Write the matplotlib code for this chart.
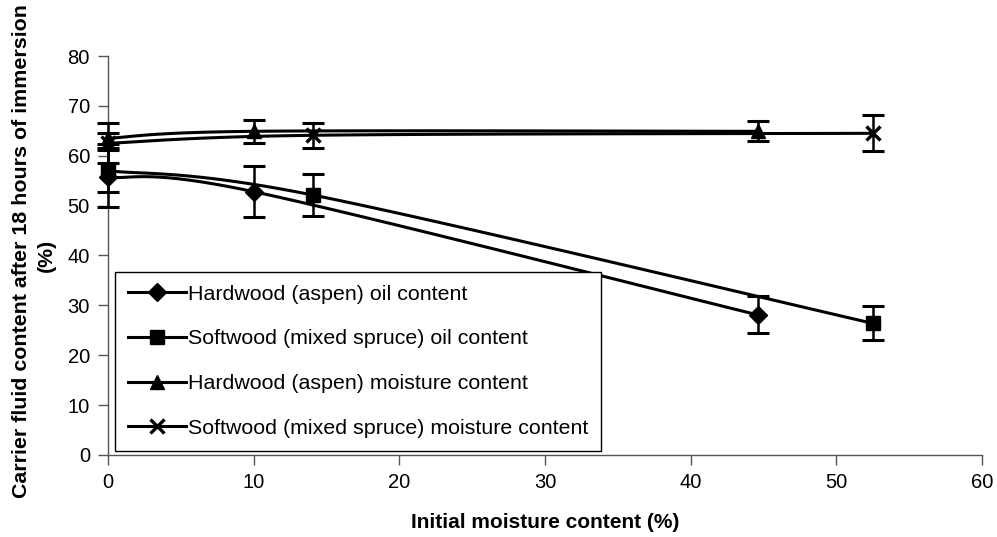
import numpy as np
import matplotlib
matplotlib.use("Agg")
import matplotlib.pyplot as plt

plt.rcParams['font.family'] = ['Liberation Sans', 'DejaVu Sans']

# Initial moisture content (%) of the two wood species
moisture_hardwood = [0.0, 10.0, 44.6]
moisture_softwood = [0.0, 14.1, 52.5]

# Carrier fluid content after 18 h immersion (%) and error bar half-widths
hw_oil = [55.7, 52.8, 28.1]
hw_oil_err = [5.9, 5.1, 3.7]
sw_oil = [57.0, 52.1, 26.4]
sw_oil_err = [4.2, 4.2, 3.4]
hw_moist = [63.5, 64.9, 64.9]
hw_moist_err = [1.1, 2.3, 2.0]
sw_moist = [62.5, 64.1, 64.5]
sw_moist_err = [4.0, 2.5, 3.6]

labels = [
    "Hardwood (aspen) oil content",
    "Softwood (mixed spruce) oil content",
    "Hardwood (aspen) moisture content",
    "Softwood (mixed spruce) moisture content",
]
x_ticks = [0, 10, 20, 30, 40, 50, 60]
y_ticks = [0, 10, 20, 30, 40, 50, 60, 70, 80]


def smooth_curve(x, y, n=60):
    """Piecewise cubic Bezier through the points (spreadsheet-style smoothing)."""
    pts = np.column_stack([x, y]).astype(float)
    out = []
    for i in range(len(pts) - 1):
        p0 = pts[i - 1] if i > 0 else pts[i]
        p1 = pts[i]
        p2 = pts[i + 1]
        p3 = pts[i + 2] if i + 2 < len(pts) else pts[i + 1]
        c1 = p1 + (p2 - p0) / 6.0
        c2 = p2 - (p3 - p1) / 6.0
        t = np.linspace(0, 1, n)[:, None]
        seg = ((1 - t) ** 3) * p1 + 3 * ((1 - t) ** 2) * t * c1 + 3 * (1 - t) * t ** 2 * c2 + t ** 3 * p2
        out.append(seg if i == 0 else seg[1:])
    c = np.vstack(out)
    return c[:, 0], c[:, 1]


fig = plt.figure(figsize=(9.97, 5.37), dpi=100)
ax = fig.add_axes([108 / 997, 1 - 455 / 537, (982 - 108) / 997, (455 - 56) / 537])

series = [
    (moisture_hardwood, hw_oil, hw_oil_err, 'D', 9.5),
    (moisture_softwood, sw_oil, sw_oil_err, 's', 9.5),
    (moisture_hardwood, hw_moist, hw_moist_err, '^', 10.5),
    (moisture_softwood, sw_moist, sw_moist_err, 'x', 10),
]

handles = []
for (xs, ys, es, mk, ms), lab in zip(series, labels):
    cx, cy = smooth_curve(xs, ys)
    ax.plot(cx, cy, color='black', lw=2.2, solid_capstyle='butt', clip_on=False, zorder=3)
    ax.errorbar(xs, ys, yerr=es, fmt='none', ecolor='black', elinewidth=1.8,
                capsize=8, capthick=2.2, clip_on=False, zorder=4)
    ax.plot(xs, ys, linestyle='none', marker=mk, markersize=ms, color='black',
            markeredgewidth=2.4 if mk == 'x' else 1.0, clip_on=False, zorder=5)
    h, = ax.plot([], [], color='black', lw=2.2, marker=mk, markersize=ms,
                 markeredgewidth=2.4 if mk == 'x' else 1.0)
    handles.append(h)

ax.set_xlim(0, 60)
ax.set_ylim(0, 80)
ax.set_xticks(x_ticks)
ax.set_yticks(y_ticks)
ax.tick_params(axis='both', direction='out', length=7, width=1.0, color='#555555',
               labelsize=14.5, pad=6)
for s in ['top', 'right']:
    ax.spines[s].set_visible(False)
for s in ['left', 'bottom']:
    ax.spines[s].set_color('#555555')
    ax.spines[s].set_linewidth(1.0)

fig.text(545 / 997, 1 - 523 / 537, "Initial moisture content (%)", ha='center', va='center',
         fontsize=15, fontweight='bold')
fig.text(22 / 997, 1 - 251 / 537, "Carrier fluid content after 18 hours of immersion",
         rotation=90, ha='center', va='center', fontsize=15.4, fontweight='bold')
fig.text(46 / 997, 1 - 255 / 537, "(%)", rotation=90, ha='center', va='center',
         fontsize=15.4, fontweight='bold')

leg = fig.legend(handles, labels, loc='upper left',
                 bbox_to_anchor=(115 / 997, 1 - 272 / 537), bbox_transform=fig.transFigure,
                 fontsize=15.4, frameon=True, fancybox=False, framealpha=1.0,
                 edgecolor='black', handlelength=2.7, handletextpad=0.1,
                 labelspacing=1.2, borderpad=0.6, borderaxespad=0.0)
leg.get_frame().set_linewidth(1.0)
leg.set_zorder(10)

fig.savefig("out.png", dpi=100, facecolor='white')
